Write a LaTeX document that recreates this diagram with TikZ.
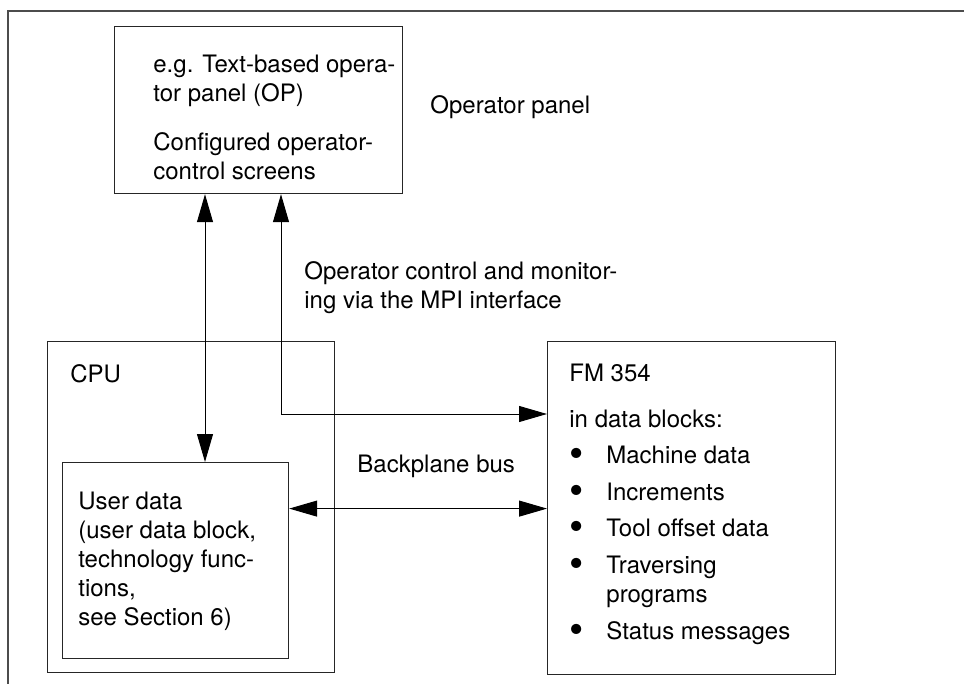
\documentclass[tikz,border=0pt]{standalone}
\usepackage{fontspec}
\setmainfont{TeX Gyre Heros}
\usetikzlibrary{arrows.meta}
\newcommand{\itembullet}{\makebox[18.5pt][l]{\raisebox{-2pt}{\scalebox{1.7}{\textbullet}}}}

\begin{document}
\begin{tikzpicture}[x=0.5pt, y=-0.5pt,
    font=\fontsize{12}{14.5}\selectfont,
    box/.style={draw=black!85, line width=0.6pt, anchor=north west,
                inner sep=0pt},
    txt/.style={anchor=base west, align=left, inner sep=0pt},
    link/.style={line width=0.5pt,
                 {Triangle[length=14pt,width=8pt]}-{Triangle[length=14pt,width=8pt]}},
  ]
  \useasboundingbox (0,0) rectangle (964,684);

  % outer frame, only top and left edge in view
  \draw[black!70, line width=0.8pt] (8,684) -- (8,11) -- (964,11);

  % boxes
  \node[box, minimum width=144pt, minimum height=83.5pt] (op) at (114,26) {};
  \node[box, minimum width=143.5pt, minimum height=165.5pt] (cpu) at (47,341) {};
  \node[box, minimum width=113pt, minimum height=98pt] (ud) at (62,462) {};
  \node[box, minimum width=144pt, minimum height=166.5pt] (fm) at (547,341) {};

  % texts (base = last line)
  \node[txt] (optext) at (153,180) {e.g. Text-based opera-\\tor panel (OP)\\[10pt]
    Configured operator-\\control screens};
  \node[txt] (oplabel) at (430,114) {Operator panel};
  \node[txt] (mpi) at (304,309) {Operator control and monitor-\\ing via the MPI interface};
  \node[txt] (cpulabel) at (70,382) {CPU};
  \node[txt] (udtext) at (78,625) {User data\\(user data block,\\technology func-\\tions,\\see Section 6)};
  \node[txt] (bus) at (357,472) {Backplane bus};
  \node[txt] (fmtext) at (569,639) {FM 354\\[8.5pt]
    in data blocks:\\[3.5pt]
    \itembullet Machine data\\[4pt]
    \itembullet Increments\\[3.5pt]
    \itembullet Tool offset data\\[4pt]
    \itembullet Traversing\\
    \hspace*{18.5pt}programs\\[4pt]
    \itembullet Status messages};

  % connections
  \draw[link] ([xshift=45.5pt]op.south west) -- ([xshift=71.5pt]ud.north west);
  \draw[link] ([xshift=83.5pt]op.south west) |- ([yshift=-36.5pt]fm.north west);
  \draw[link] ([yshift=26pt]ud.east) -- ([yshift=26pt]ud.east -| fm.west);
\end{tikzpicture}
\end{document}
